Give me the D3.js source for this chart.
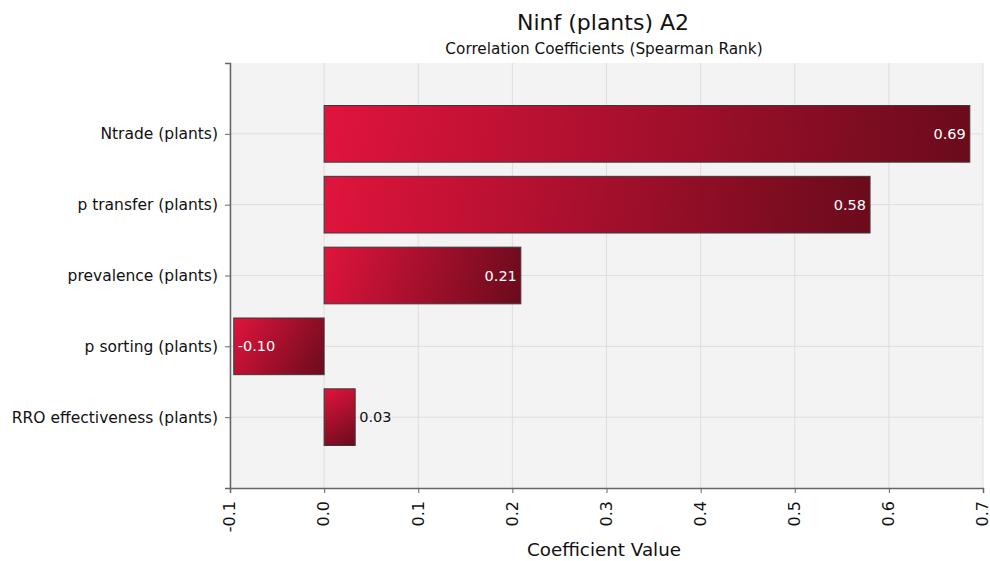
<!DOCTYPE html>
<html>
<head>
<meta charset="utf-8">
<script src="https://cdn.jsdelivr.net/npm/d3@7"></script>
<style>
  body { margin: 0; background: #fff; }
  svg { font-family: "DejaVu Sans", Verdana, sans-serif; }
</style>
</head>
<body>
<script>
const categories = [
  "Ntrade (plants)",
  "p transfer (plants)",
  "prevalence (plants)",
  "p sorting (plants)",
  "RRO effectiveness (plants)"
]
const coefficients = [0.686, 0.580, 0.209, -0.096, 0.033]
const xTicks = [-0.1, 0.0, 0.1, 0.2, 0.3, 0.4, 0.5, 0.6, 0.7]

const width = 990
const height = 561
const plotLeft = 230, plotRight = 983, plotTop = 63, plotBottom = 488
const font = "'DejaVu Sans', Verdana, sans-serif"

const svg = d3.select("body").append("svg")
    .attr("width", width)
    .attr("height", height)

const x = d3.scaleLinear().domain([-0.1, 0.7]).range([plotLeft, plotRight])
// categories sit at 1..5 on a 0..6 scale
const y = d3.scaleLinear().domain([0, categories.length + 1]).range([plotTop, plotBottom])
const barH = (y(1) - y(0)) * 0.8

function barX(d) { return x(Math.min(0, d)) }
function barY(i) { return y(i + 1) - barH / 2 }
function barW(d) { return Math.abs(x(d) - x(0)) }

// one diagonal gradient per bar, top-left bright to bottom-right dark
const defs = svg.append("defs")
const grads = defs.selectAll("linearGradient")
  .data(coefficients)
  .enter().append("linearGradient")
    .attr("id", (d, i) => `barGrad${i}`)
    .attr("gradientUnits", "userSpaceOnUse")
    .attr("x1", d => barX(d))
    .attr("y1", (d, i) => barY(i))
    .attr("x2", d => barX(d) + barW(d))
    .attr("y2", (d, i) => barY(i) + barH)
grads.append("stop").attr("offset", "0%").attr("stop-color", "#e0143c")
grads.append("stop").attr("offset", "100%").attr("stop-color", "#6a0b1c")

// plot background
svg.append("rect")
    .attr("x", plotLeft).attr("y", plotTop)
    .attr("width", plotRight - plotLeft).attr("height", plotBottom - plotTop)
    .attr("fill", "#f3f3f3")

// grid
svg.append("g").selectAll("line")
  .data(xTicks)
  .enter().append("line")
    .attr("x1", d => x(d)).attr("x2", d => x(d))
    .attr("y1", plotTop).attr("y2", plotBottom)
    .attr("stroke", "#dedede").attr("stroke-width", 1)
svg.append("g").selectAll("line")
  .data(categories)
  .enter().append("line")
    .attr("x1", plotLeft).attr("x2", plotRight)
    .attr("y1", (d, i) => y(i + 1)).attr("y2", (d, i) => y(i + 1))
    .attr("stroke", "#dedede").attr("stroke-width", 1)

// bars
svg.append("g").selectAll("rect")
  .data(coefficients)
  .enter().append("rect")
    .attr("x", d => barX(d))
    .attr("y", (d, i) => barY(i))
    .attr("width", d => barW(d))
    .attr("height", barH)
    .attr("fill", (d, i) => `url(#barGrad${i})`)
    .attr("stroke", "#3a3a3a").attr("stroke-width", 1)

// value labels: inside the bar in white, outside in black when the bar is short
svg.append("g").selectAll("text")
  .data(coefficients)
  .enter().append("text")
    .attr("x", d => (d >= 0.1 ? x(d) - 4 : x(d) + 4))
    .attr("y", (d, i) => y(i + 1))
    .attr("dy", "0.35em")
    .attr("text-anchor", d => (d >= 0.1 ? "end" : "start"))
    .attr("fill", d => (d >= 0 && d < 0.1 ? "#111" : "#fff"))
    .attr("font-size", 14.5)
    .text(d => d.toFixed(2))

// x axis
const xAxis = svg.append("g")
    .attr("transform", `translate(0,${plotBottom})`)
    .call(d3.axisBottom(x).tickValues(xTicks).tickFormat(d => d.toFixed(1)).tickSizeOuter(0).tickSize(5))
xAxis.attr("font-family", font)
xAxis.select(".domain").attr("stroke", "#666").attr("stroke-width", 1.5)
xAxis.selectAll(".tick line").attr("stroke", "#666")
xAxis.selectAll("text")
    .attr("font-size", 16)
    .attr("fill", "#111")
    .attr("transform", "rotate(-90)")
    .attr("text-anchor", "end")
    .attr("x", -13).attr("y", 0).attr("dy", "0.3em")

// y axis
const yAxis = svg.append("g")
    .attr("transform", `translate(${plotLeft},0)`)
    .call(d3.axisLeft(y)
      .tickValues(d3.range(0, categories.length + 1))
      .tickFormat(d => categories[d - 1] || "")
      .tickSizeOuter(0).tickSize(5))
yAxis.attr("font-family", font)
yAxis.select(".domain").attr("stroke", "#666").attr("stroke-width", 1.5)
yAxis.selectAll(".tick line").attr("stroke", "#666")
yAxis.selectAll("text").attr("font-size", 15.5).attr("fill", "#111").attr("x", -12)

// titles
svg.append("text")
    .attr("x", 603).attr("y", 30)
    .attr("text-anchor", "middle")
    .attr("font-size", 22).attr("fill", "#111")
    .text("Ninf (plants) A2")
svg.append("text")
    .attr("x", 604).attr("y", 54)
    .attr("text-anchor", "middle")
    .attr("font-size", 15.3).attr("fill", "#111")
    .text("Correlation Coefficients (Spearman Rank)")
svg.append("text")
    .attr("x", 604).attr("y", 556)
    .attr("text-anchor", "middle")
    .attr("font-size", 18.3).attr("fill", "#111")
    .text("Coefficient Value")
</script>
</body>
</html>
